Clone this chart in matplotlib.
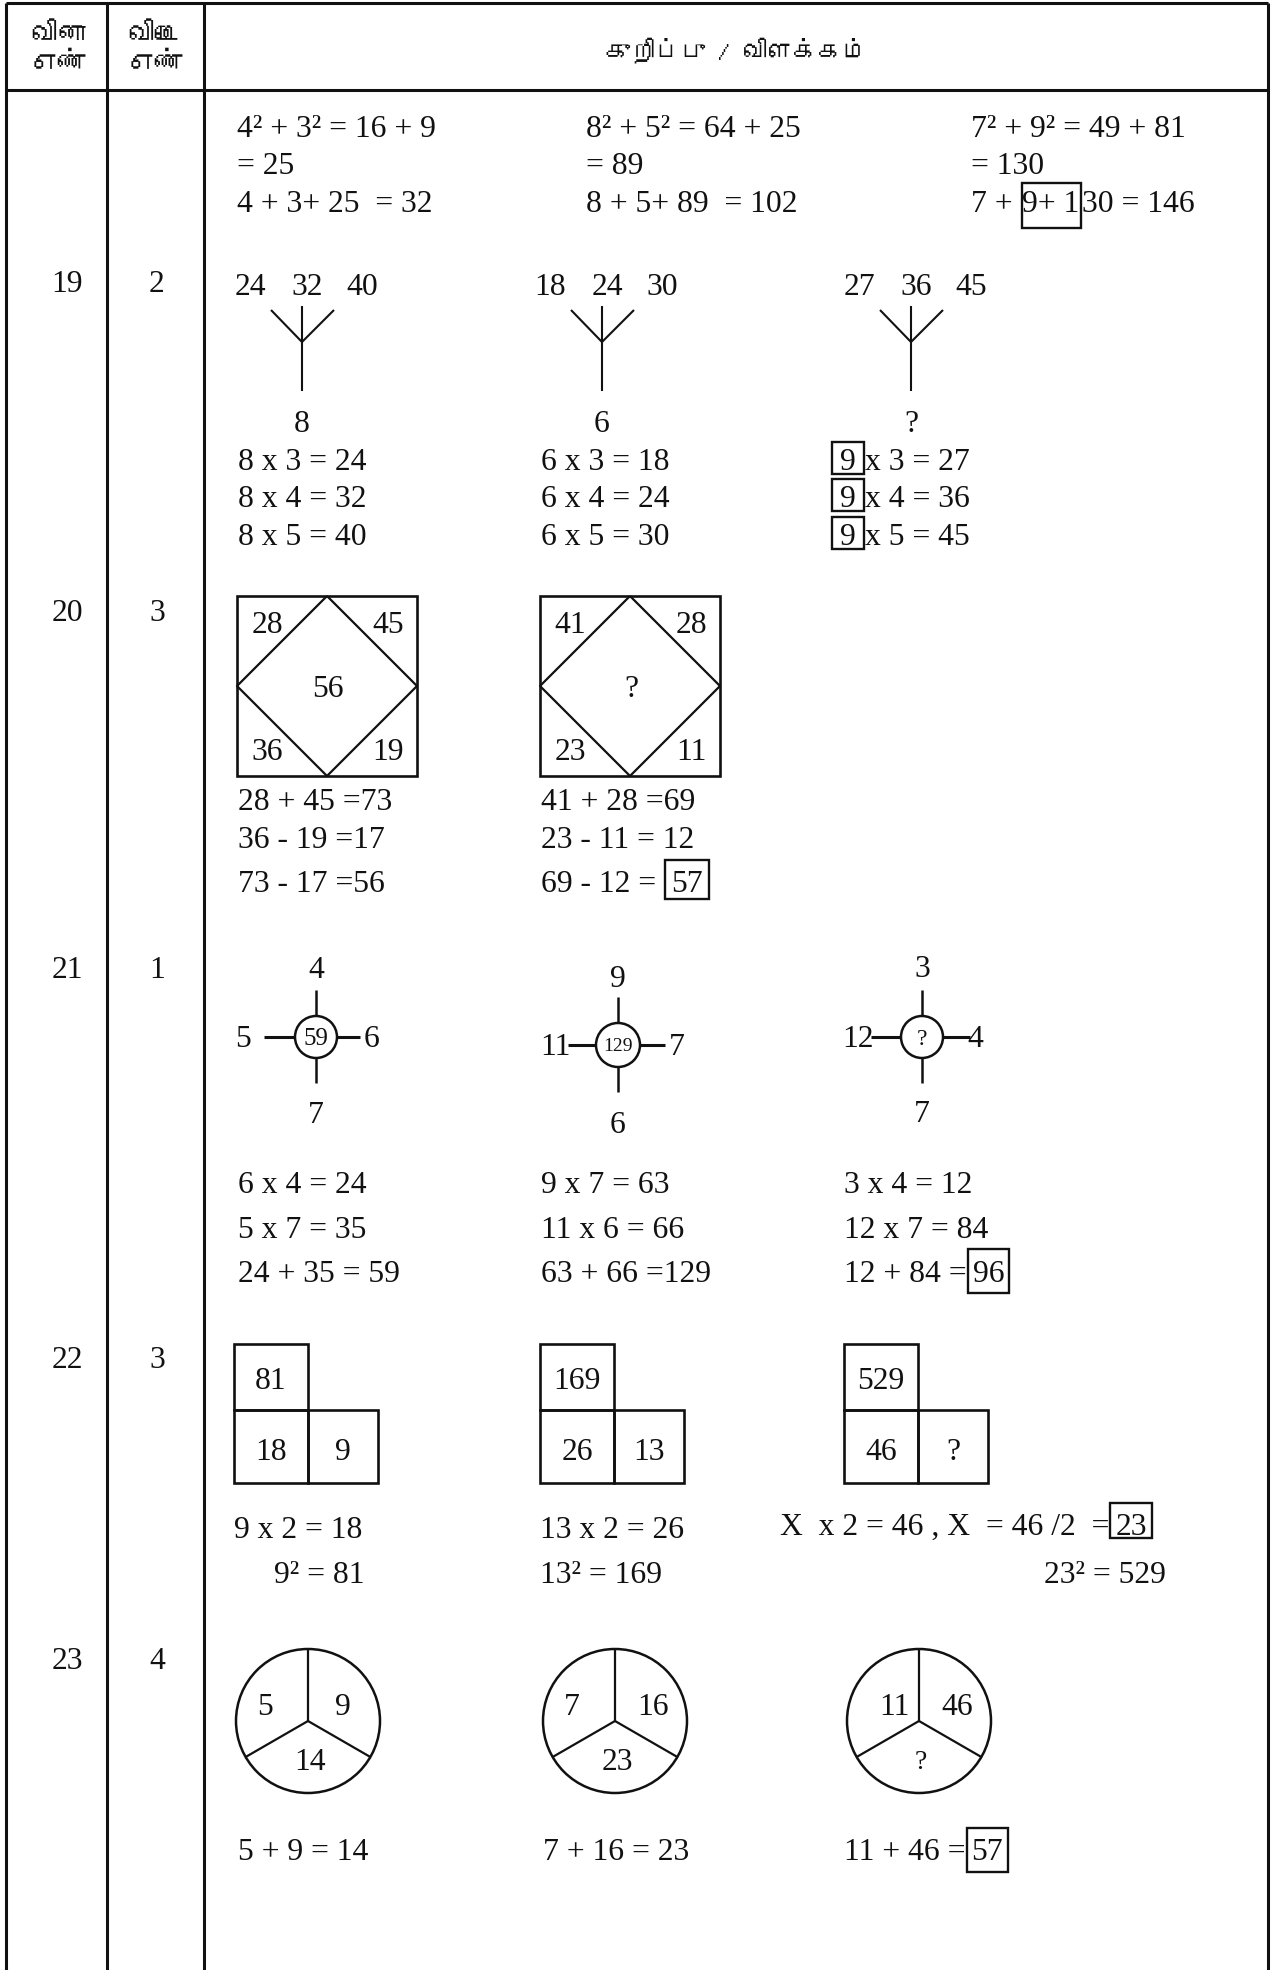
import numpy as np
import matplotlib
matplotlib.use("Agg")
import matplotlib.pyplot as plt
from matplotlib import font_manager, ft2font
from matplotlib.patches import Rectangle, Circle

W, H = 1283, 1970
SERIF = "Liberation Serif"
FS = 22.8

def find_font(ch):
    # look for an installed family that has the Tamil glyph
    for f in font_manager.fontManager.ttflist:
        try:
            cmap = ft2font.FT2Font(f.fname).get_charmap()
        except Exception:
            continue
        if ord(ch) in cmap:
            return f.name
    return "DejaVu Sans"

TAMIL = find_font("வ")

# ---- content ----
head_q = ["வினா", "எண்"]
head_a = ["விடை", "எண்"]
head_note = "குறிப்பு / விளக்கம்"

q_nums = ["19", "20", "21", "22", "23"]
a_nums = ["2", "3", "1", "3", "4"]
row_y = [282, 611, 968, 1358, 1659]

# row 18 (continued)
r18_a = ["4² + 3² = 16 + 9", "= 25", "4 + 3+ 25  = 32"]
r18_b = ["8² + 5² = 64 + 25", "= 89", "8 + 5+ 89  = 102"]
r18_c = ["7² + 9² = 49 + 81", "= 130"]
r18_c_last = [("7 + ", None), ("9+ 1", 1), ("30 = 146", None)]

# row 19: trees
tree_top = [["24", "32", "40"], ["18", "24", "30"], ["27", "36", "45"]]
tree_bottom = ["8", "6", "?"]
tree_eq = [["8 x 3 = 24", "8 x 4 = 32", "8 x 5 = 40"],
           ["6 x 3 = 18", "6 x 4 = 24", "6 x 5 = 30"]]
tree_eq_c = [("9", "x 3 = 27"), ("9", "x 4 = 36"), ("9", "x 5 = 45")]

# row 20: squares with diamond
sq_labels = [["28", "45", "56", "36", "19"], ["41", "28", "?", "23", "11"]]
sq_eq = [["28 + 45 =73", "36 - 19 =17", "73 - 17 =56"],
         ["41 + 28 =69", "23 - 11 = 12"]]
sq_eq_last = [("69 - 12 = ", None), ("57", 6)]

# row 21: crosses (top, left, right, bottom, centre)
cross_vals = [["4", "5", "6", "7", "59"], ["9", "11", "7", "6", "129"], ["3", "12", "4", "7", "?"]]
cross_eq = [["6 x 4 = 24", "5 x 7 = 35", "24 + 35 = 59"],
            ["9 x 7 = 63", "11 x 6 = 66", "63 + 66 =129"],
            ["3 x 4 = 12", "12 x 7 = 84"]]
cross_eq_last = [("12 + 84 =", None), ("96", 5)]

# row 22: L shapes
ell_vals = [["81", "18", "9"], ["169", "26", "13"], ["529", "46", "?"]]
ell_eq = [["9 x 2 = 18", "9² = 81"], ["13 x 2 = 26", "13² = 169"]]
ell_eq_c = [("X  x 2 = 46 , X  = 46 /2  =", None), ("23", 5)]
ell_eq_c2 = "23² = 529"

# row 23: circles in three parts
pie_vals = [["5", "9", "14"], ["7", "16", "23"], ["11", "46", "?"]]
pie_eq = ["5 + 9 = 14", "7 + 16 = 23"]
pie_eq_last = [("11 + 46 =", None), ("57", 5)]

# ---- figure ----
fig = plt.figure(figsize=(W / 100, H / 100), dpi=100)
ax = fig.add_axes([0, 0, 1, 1])
ax.set_xlim(0, W)
ax.set_ylim(H, 0)
ax.axis("off")
renderer = fig.canvas.get_renderer()

LW_TAB = 2.2
LW = 1.5
INK = "#111111"

def txt(x, y, s, size=FS, ha="left"):
    # y is the visual centre of the digits
    return ax.text(x, y + size * 0.45, s, fontsize=size, family=SERIF,
                   ha=ha, va="baseline", color=INK)

def runs(x, y, parts, top=22, bot=18, size=FS):
    for s, pad in parts:
        if pad is not None:
            x += pad + 1
        t = txt(x, y, s, size)
        w = t.get_window_extent(renderer).width
        if pad is not None:
            ax.add_patch(Rectangle((x - pad, y - top), w + 2 * pad, top + bot,
                                   fill=False, lw=1.7, ec=INK))
            x += pad + 1
        x += w
    return x

def line(xs, ys, lw=LW):
    ax.plot(xs, ys, color=INK, lw=lw, solid_capstyle="butt")

# table
X_L, X_1, X_2, X_R = 6, 107, 204, 1268
Y_T, Y_H = 3, 90
line([X_L, X_R], [Y_T, Y_T], LW_TAB)
line([X_L, X_R], [Y_H, Y_H], LW_TAB)
for xv in [X_L, X_1, X_2, X_R]:
    line([xv, xv], [Y_T, H], LW_TAB)

tam = [TAMIL, "DejaVu Sans"]
for xc, lines in [(58, head_q), (155, head_a)]:
    for yy, s in zip([35, 64], lines):
        ax.text(xc, yy, s, fontsize=20, family=tam, fontweight="bold",
                ha="center", va="center", color=INK)
ax.text(736, 50, head_note, fontsize=18, family=tam, fontweight="bold",
        ha="center", va="center", color=INK)

for q, a, yy in zip(q_nums, a_nums, row_y):
    txt(67, yy, q, ha="center")
    txt(157, yy, a, ha="center")

# row 18 continued
for x0, col in [(237, r18_a), (586, r18_b), (971, r18_c)]:
    for yy, s in zip([127, 164, 202], col):
        txt(x0, yy, s)
runs(971, 202, r18_c_last, top=19, bot=26)

# row 19
for cx, tops, bot in zip([302, 602, 911], tree_top, tree_bottom):
    for dx, s in zip([-52, 5, 60], tops):
        txt(cx + dx, 285, s, ha="center")
    line([cx - 31, cx, cx + 32], [310, 342, 310])
    line([cx, cx], [306, 391])
    txt(cx, 422, bot, ha="center")
for x0, col in zip([238, 541], tree_eq):
    for yy, s in zip([460, 497, 535], col):
        txt(x0, yy, s)
for yy, (b, rest) in zip([460, 497, 535], tree_eq_c):
    runs(831, yy, [(b, 8), (rest, None)], top=18, bot=14)

# row 20
S = 180
for x0, labs in zip([237, 540], sq_labels):
    ax.add_patch(Rectangle((x0, 596), S, S, fill=False, lw=1.9, ec=INK))
    line([x0 + S / 2, x0 + S, x0 + S / 2, x0, x0 + S / 2],
         [596, 596 + S / 2, 596 + S, 596 + S / 2, 596], lw=1.6)
    pos = [(30, 27), (151, 27), (91, 91), (30, 154), (151, 154)]
    for (dx, dy), s in zip(pos, labs):
        txt(x0 + dx, 596 + dy, s, ha="center")
for x0, col in zip([238, 541], sq_eq):
    for yy, s in zip([800, 838, 882], col):
        txt(x0, yy, s)
runs(541, 882, sq_eq_last, top=22, bot=17)

# row 21
cross_geo = [(316, 1037, 21), (618, 1045, 22), (922, 1037, 21)]
# label / stick offsets: left label, left stick start, right stick end, right label, top label, bottom label
cross_off = [(-73, -52, 44, 56, -69, 76), (-63, -50, 47, 59, -68, 78), (-64, -51, 48, 53, -70, 75)]
mid_size = {"59": 18, "129": 14, "?": 17}
for (cx, cy, r), vals, off in zip(cross_geo, cross_vals, cross_off):
    top, left, right, bottom, mid = vals
    lx, ls, re_, rx, ty, by = off
    ax.add_patch(Circle((cx, cy), r, fill=False, lw=1.8, ec=INK))
    line([cx, cx], [cy - r, cy - r - 26], lw=1.8)
    line([cx, cx], [cy + r, cy + r + 25], lw=1.8)
    line([cx + ls, cx - r], [cy, cy], lw=2.2)
    line([cx + r, cx + re_], [cy, cy], lw=2.2)
    txt(cx, cy + ty, top, ha="center")
    txt(cx, cy + by, bottom, ha="center")
    txt(cx + lx, cy, left, ha="center")
    txt(cx + rx, cy, right, ha="center")
    txt(cx, cy, mid, ha="center", size=mid_size.get(mid, 16))
for x0, col in zip([238, 541, 844], cross_eq):
    for yy, s in zip([1183, 1228, 1272], col):
        txt(x0, yy, s)
runs(844, 1272, cross_eq_last, top=23, bot=21)

# row 22
C1, C2 = 74, 70
for x0, (t, bl, br) in zip([234, 540, 844], ell_vals):
    ax.add_patch(Rectangle((x0, 1344), C1, 66, fill=False, lw=1.9, ec=INK))
    ax.add_patch(Rectangle((x0, 1410), C1, 73, fill=False, lw=1.9, ec=INK))
    ax.add_patch(Rectangle((x0 + C1, 1410), C2, 73, fill=False, lw=1.9, ec=INK))
    txt(x0 + C1 / 2, 1379, t, ha="center")
    txt(x0 + C1 / 2, 1450, bl, ha="center")
    txt(x0 + C1 + C2 / 2, 1450, br, ha="center")
txt(234, 1528, ell_eq[0][0])
txt(274, 1573, ell_eq[0][1])
txt(540, 1528, ell_eq[1][0])
txt(540, 1573, ell_eq[1][1])
runs(780, 1525, ell_eq_c, top=22, bot=13)
txt(1044, 1573, ell_eq_c2)

# row 23
R = 72
ang = np.radians([90, 210, 330])
for cx, vals in zip([308, 615, 919], pie_vals):
    cy = 1721
    ax.add_patch(Circle((cx, cy), R, fill=False, lw=1.8, ec=INK))
    for a in ang:
        line([cx, cx + R * np.cos(a)], [cy, cy - R * np.sin(a)], lw=1.6)
    l, r, b = vals
    off = -43 if len(l) == 1 else -25
    txt(cx + off, 1705, l, ha="center")
    txt(cx + 35 if len(r) == 1 else cx + 38, 1705, r, ha="center")
    txt(cx + 2, 1760, b, ha="center", size=FS if b != "?" else 20)
for x0, s in zip([238, 543], pie_eq):
    txt(x0, 1850, s)
runs(844, 1850, pie_eq_last, top=22, bot=22)

fig.savefig("out.png", dpi=100, facecolor="white")
